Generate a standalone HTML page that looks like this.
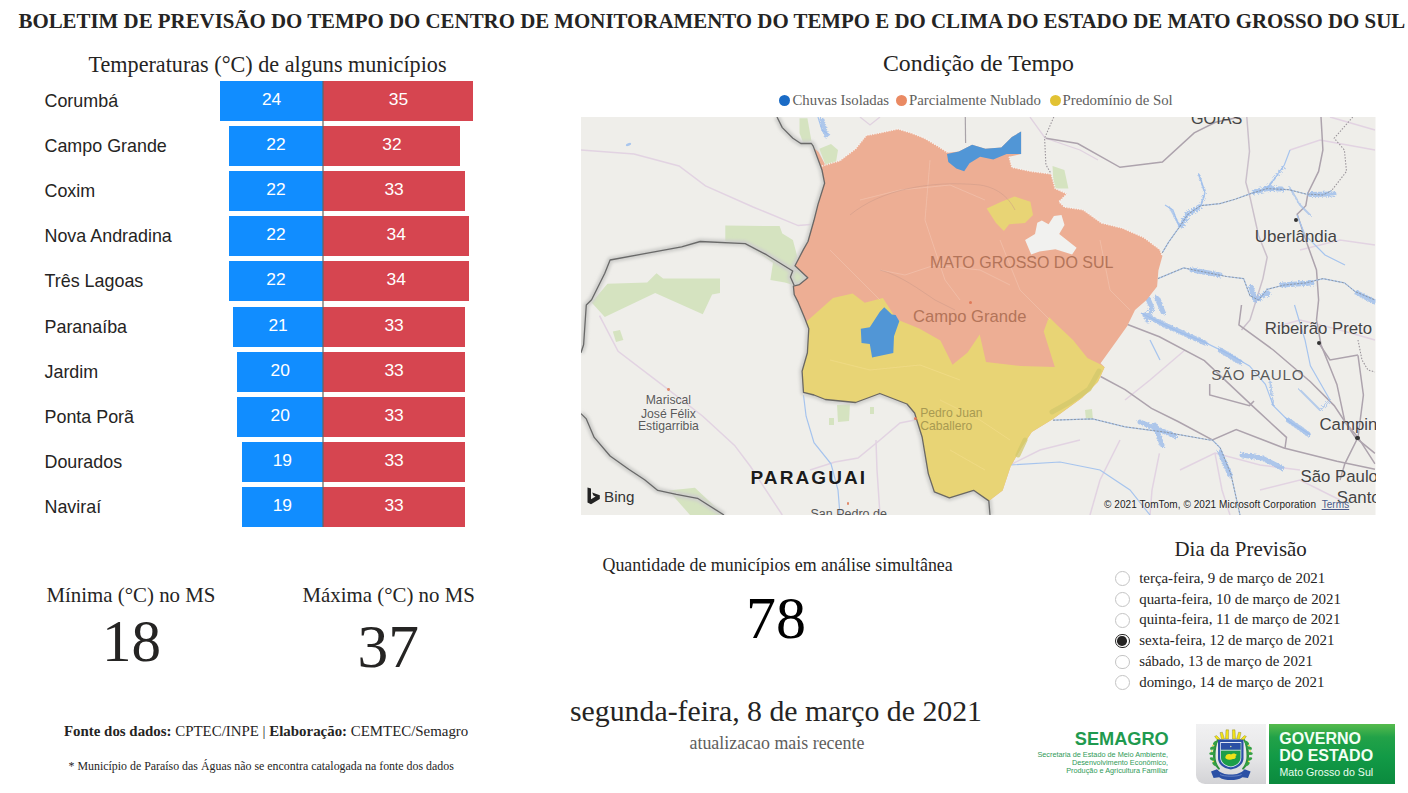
<!DOCTYPE html>
<html><head><meta charset="utf-8"><style>
html,body{margin:0;padding:0;background:#fff;width:1408px;height:793px;overflow:hidden;position:relative}
.t{position:absolute;white-space:nowrap;line-height:1.2}
.b{position:absolute}
</style></head><body>
<svg style="position:absolute;left:0;top:0" width="1408" height="793" viewBox="0 0 1408 793">
<defs><clipPath id="mc"><rect x="581" y="117" width="794.5" height="398"/></clipPath></defs>
<g clip-path="url(#mc)">
<rect x="581" y="117" width="795" height="398" fill="#efeeea"/>
<!-- parks -->
<g fill="#d5e3c0">
<path d="M725.3,225.6 L779.6,226.1 L782.3,233.5 L792.9,240.1 L798.2,260 L807.4,277.2 L798.2,286.5 L784.9,282.5 L770.4,279.9 L773,262.7 L745.2,243.6 L725.3,241.5 Z"/>
<path d="M591.6,302.4 L607.5,283.8 L647.2,282.5 L656.5,273.3 L663.1,278.5 L720,278.5 L720,293.1 L712.1,294.4 L702.8,314.3 L655.2,293.1 L604.8,317 Z"/>
<path d="M799.5,118.3 L807.4,118.3 L811.4,140.8 L803.5,143.5 L799.5,132.9 Z"/>
<path d="M819.3,148.8 L831,144 L838,150 L836,162 L826,166 Z"/>
<path d="M1052.5,166 L1064.4,170 L1068.4,188.5 L1053.8,188.5 Z"/>
<path d="M612.8,331.5 L620,330 L623.4,340 L616,342 Z"/>
<path d="M668.4,490.4 L694.9,487.7 L724,515 L690,515 Z"/>
<path d="M837,405 L850,404 L849,421 L838,422 Z"/><path d="M829,418 L834,418 L834,425 L829,425 Z"/><path d="M870,407 L874,407 L874,414 L870,414 Z"/>
<path d="M1085,410 L1092,409 L1093,420 L1086,420 Z"/>
</g>
<ellipse cx="628.5" cy="144.5" rx="2.8" ry="1.3" fill="#a9c6ee" transform="rotate(-20 628.5 144.5)"/>
<!-- roads light pink -->
<g fill="none" stroke="#e2d3e2" stroke-width="1.5">
<path d="M581,150.1 L634,154 L679,166 L705.5,185.9 L753.1,207 L798.2,225.6 L814,224.3"/>
<path d="M599.5,315.6 L618.1,351.3 L668.4,389.7 L702.8,416.2 L734.6,445.4 L750.5,466.5 L782.3,515"/>
<path d="M1215,453.3 L1222,490 L1230,515"/>
<path d="M1159.4,453.3 L1152,490 L1150,515"/>
<path d="M1185,350 L1150,380 L1125,400"/>
<path d="M1120,440 L1100,480 L1090,515"/>
<path d="M1375,130 L1330,117"/>
<path d="M1290,150 L1320,140 L1375,150"/>
<path d="M1265,330 L1300,320 L1340,330 L1375,340"/>
<path d="M915,420 L900,423 L880,440 L858,458 L835,462 L810,470"/><path d="M876,440 L877,470 L880,515"/>
<path d="M1180,470 L1215,453 L1260,465 L1300,470"/>
<path d="M1260,490 L1300,480 L1340,500"/>
<path d="M1000,470 L1040,450 L1080,440"/>
<path d="M1300,250 L1340,240 L1375,245"/>

</g>
<g fill="none" stroke="#e0d2e0" stroke-width="1.3">
<path d="M1030,117 L1045,138 L1080,150 L1098,160"/>
<path d="M860,117 L870,125 L880,117"/>
</g>
<g fill="none" stroke="#a9a3a9" stroke-width="1.2"><path d="M965.3,117 L965.6,143"/></g>
<!-- major roads gray -->
<g fill="none" stroke="#ada3ad" stroke-width="1.5">
<path d="M1045.9,138.2 L1077.7,143.5 L1120,167.3 L1162.4,162 L1194.2,132.9 L1215.4,122.3 L1240,117"/>
<path stroke="#cbc0cb" d="M1246.8,117 L1249.5,151.4 L1245.8,182.2 L1250,197.2 L1258.6,235.7 L1267.2,257.2 L1262.9,278.6 L1250,320 L1241.5,330"/>
<path d="M1321,117 L1322.9,150 L1318.6,171.4 L1308,192.9 L1305.8,205.7 L1297.2,214.3 L1305.8,240 L1316.5,270 L1318.6,300 L1316.5,320 L1321,344.7 L1336.9,384.4 L1344.8,421.5 L1358,437.4 L1375,463.9"/>
<path d="M1125,323.5 L1159.4,336.8 L1204.4,360.6 L1252.1,405.6 L1286.5,437.4 L1285,448"/>
<path d="M1241.5,305 L1238.9,324.9 L1273.3,350 L1310.4,381.8 L1334.2,405.6 L1355.4,437.4 L1375,453.3"/>
<path d="M1100.6,376.5 L1125,389.7 L1151.5,408.3 L1178,421.5 L1212.4,440 L1236.2,429.5 L1283.9,448 L1336.9,461.2 L1375,469.2"/>
<path d="M1209.7,384 L1209.7,395 L1249.5,405.6 L1254,401"/>
<path d="M1358,355.3 L1363.4,395 L1358,437.4 L1344.8,463.9 L1340,480"/>
<path d="M1318.7,343 L1330,360 L1358,355"/>
</g>
<defs><filter id="fz" x="-20%" y="-20%" width="140%" height="140%"><feTurbulence type="fractalNoise" baseFrequency="0.6" numOctaves="2" seed="3"/><feDisplacementMap in="SourceGraphic" scale="5"/></filter></defs>
<!-- rivers thin -->
<g fill="none" stroke="#a6c4ee" stroke-width="1.2">
<path d="M803.5,395 L806.1,416.2 L814,442.7 L831,463.9 L838,490 L840,515"/>
<path d="M1162.2,252.9 L1168.6,242.2 L1179.3,227.2 L1187.9,214.3 L1200.7,205.7 L1220,203.6 L1235,199.3 L1250,193.9 L1267.2,188.6 L1288.6,189.7 L1305.8,194 L1322.9,195 L1331.5,190.7"/>
<path d="M1157.9,278.6 L1183.6,267.9 L1205,272.2 L1226.5,276.5 L1243.6,278.6 L1250,295.8 L1258.6,300 L1267.2,289.3 L1284.3,285 L1305.8,282.9 L1322.9,278.6 L1344.4,282.9 L1355,291.5 L1375,300"/>
<path d="M1053,420.2 L1092.7,418.9 L1125,426.8 L1164.7,432.1 L1209.7,440 L1212.4,440"/>
<path d="M1140.9,313 L1178,331.5 L1204.4,342.1 L1231,355.3 L1249.5,365.9 L1265.4,384.4 L1273.3,405.6 L1289.2,421.5 L1310.4,434.8"/>
<path d="M1200.7,205.7 L1205,192.9 L1198.6,173.6"/>
<path d="M1267.2,188.6 L1284.3,165 L1290,150"/>
<path d="M1179.3,227.2 L1172.9,210 L1165,205"/>
<path d="M1212.4,440 L1220.3,448 L1231,474.5 L1240,515"/>
<path d="M818,117 L822,130 L830,135"/>
<path d="M1297,215 L1305,235 L1325,255 L1345,265"/>
<path d="M1294.5,305 L1305,340 L1310.4,365.9 L1330,400"/>
<path d="M1010,465 L1060,462 L1100,470 L1130,490 L1150,515"/>
<path d="M1150,340 L1160,360"/>
</g>
<!-- reservoirs fuzzy -->
<g fill="none" stroke="#9dbdeb" stroke-width="5" stroke-linecap="round" stroke-linejoin="round" filter="url(#fz)" opacity="0.8">
<path d="M1181,226 L1188,214 L1199,207"/>
<path d="M1254,192 L1267,188.6 L1282,189"/>
<path d="M1310,194.5 L1334,194"/>
<path d="M1192,270 L1220,275"/>
<path d="M1251,287 L1255,300 L1268,293"/>
<path d="M1282,285 L1312,283"/>
<path d="M1357,293 L1375,302"/>
<path d="M1146,294 L1152,308 L1147,320"/>
<path d="M1157,298 L1163,312"/>
<path d="M1145,315 L1165,325 L1185,334 L1205,343"/>
<path d="M1220,350 L1240,362"/>
<path d="M1288,420 L1308,434"/>
<path d="M1140,422 L1160,430 L1175,436"/>
<path d="M1155,425 L1162,445"/>
<path d="M1220,452 L1230,475"/>
<path d="M1242,455 L1262,458 L1282,468"/>
<path d="M822,120 L826,135"/>
</g>
<g fill="none" stroke="#9dbdeb" stroke-width="2" stroke-linecap="round" filter="url(#fz)" opacity="0.7">
<path d="M1199,175 L1205,193 L1201,205"/>
<path d="M1284,167 L1267,188"/>
<path d="M1170,208 L1180,226"/>
<path d="M1300,390 L1320,410 L1330,400"/>
<path d="M1270,380 L1273,405"/>
<path d="M1290,188 L1300,205 L1310,215"/>
</g>
<!-- river state border dashes -->
<g fill="none" stroke="#8d8d8d" stroke-width="1" stroke-dasharray="2,1.5" opacity="0.8">
<path d="M1162.2,252.9 L1168.6,242.2 L1179.3,227.2 L1187.9,214.3 L1200.7,205.7 L1220,203.6 L1235,199.3 L1250,193.9 L1267.2,188.6 L1288.6,189.7 L1305.8,194 L1322.9,195 L1331.5,190.7"/>
<path d="M1157.9,278.6 L1183.6,267.9 L1205,272.2 L1226.5,276.5 L1243.6,278.6 L1250,295.8 L1258.6,300 L1267.2,289.3 L1284.3,285 L1305.8,282.9 L1322.9,278.6 L1344.4,282.9 L1355,291.5 L1375,300"/>
<path d="M1053,420.2 L1092.7,418.9 L1125,426.8 L1164.7,432.1 L1209.7,440 L1212.4,440"/>
<path d="M1212.4,440 L1220.3,448 L1231,474.5 L1240,515"/>
</g>
<!-- state borders dotted -->
<g fill="none" stroke="#9a949a" stroke-width="1.1" stroke-dasharray="1.5,1.5">
<path d="M1053.8,117 L1044.6,138.2 L1045.9,164.7 L1051.2,173.9"/>
<path d="M1352.8,117 L1334.2,138.2 L1344.4,150 L1346.5,171.4 L1331.5,190.7"/>
<path d="M1358,340 L1362,360 L1368,370 L1375,372"/>
</g>
<!-- halo -->
<defs><filter id="hb" x="-5%" y="-5%" width="110%" height="110%"><feGaussianBlur stdDeviation="1.6"/></filter></defs>
<g fill="none" stroke-linejoin="round" filter="url(#hb)">
<path id="b1" d="M777,117 L782.3,127.6 L792.9,138.2 L800.8,143.5 L811.4,143.5 L813.2,146.1 L822,170 L824.6,183.2 L818,204.4 L814,220.3 L808,241.5 L803.5,249.4 L795,265.7 L807.8,277.8 L799.5,284.6 L793.4,286.1 L794.2,294.5 L798.2,302.4 L804.8,318.3 L808.8,328.8 L807.4,352.7 L802.1,371.2 L803.5,392.4 L814,395 L825.4,399.5 L855.6,402.5 L879.8,393.5 L907,404 L914.6,413 L922.2,437.3 L928.3,473.6 L934.3,491.8 L949.4,497.9 L973.6,490.3 L988.8,500.9 L990,515" stroke="#cfcfcc" stroke-width="6"/>
<path d="M794.2,285.4 L790.4,277 L792.7,271 L766.4,254.7 L745.2,243.6 L700.2,241.5 L681.6,246.8 L610.1,260 L604.8,273.2 L591.6,299.7 L586.3,305 L583.6,344.7 L581,352.7" stroke="#cfcfcc" stroke-width="6"/>
<path d="M581,413.6 L586.3,418.9 L594.2,437.4 L610.1,456 L628.7,469.2 L644.6,479.8 L657.8,490.4 L676.3,494.4 L697.5,498.3 L724,515" stroke="#cfcfcc" stroke-width="6"/>
</g>
<!-- MS state -->
<path fill="#edae94" d="M814.4,148.5 L818.5,152 L825.2,164.7 L839.7,160.7 L855.6,148.8 L866.2,135.5 L879.4,132.9 L898,128.9 L911.2,132.9 L924.5,138.2 L937.7,146.1 L948.3,152.8 L958.9,151.4 L972.1,144.8 L985.4,148.8 L1001.3,147.5 L1011.9,136.9 L1021.1,131.6 L1021.1,154.1 L1009.2,156.7 L1011.9,167.3 L1030.4,171.3 L1051.2,173.9 L1055.2,188.5 L1067.1,193.8 L1059.1,201.7 L1064.4,207 L1083,209.7 L1101.5,222.9 L1122.7,228.2 L1143.9,237.5 L1159.8,249.4 L1162.4,256 L1158.4,270.6 L1157.1,286.5 L1146.5,300 L1135,310 L1127.1,326.2 L1113.9,344.7 L1100.6,363.3 L1104.6,367.2 L1098,381.8 L1082.1,397.7 L1053,418.9 L1031.8,432.1 L1021.2,448 L1010.6,466.5 L1002.6,490.4 L988.8,500.9 L973.6,490.3 L949.4,497.9 L934.3,491.8 L928.3,473.6 L922.2,437.3 L914.6,413 L907,404 L879.8,393.5 L855.6,402.5 L825.4,399.5 L814,395 L803.5,392.4 L802.1,371.2 L807.4,352.7 L808.8,328.8 L804.8,318.3 L798.2,302.4 L794.2,294.5 L793.4,286.1 L799.5,284.6 L807.8,277.8 L795,265.7 L803.5,249.4 L808,241.5 L814,220.3 L818,204.4 L824.6,183.2 L822,170 Z"/>
<path fill="#e8d475" d="M806,322 L833,298 L852.6,293.6 L864.7,302.7 L882.9,298 L896.5,319.3 L919.2,328.4 L940.4,340.5 L952.5,364.7 L967.6,352.6 L979.7,334.5 L986,362 L1020.5,366 L1054.8,367 L1043.7,331.5 L1049,316.9 L1057,325 L1073,340 L1087.4,358 L1100.6,364.6 L1104.6,367.2 L1098,381.8 L1082.1,397.7 L1053,418.9 L1031.8,432.1 L1021.2,448 L1010.6,466.5 L1002.6,490.4 L988.8,500.9 L973.6,490.3 L949.4,497.9 L934.3,491.8 L928.3,473.6 L922.2,437.3 L914.6,413 L907,404 L879.8,393.5 L855.6,402.5 L825.4,399.5 L814,395 L803.5,392.4 L802.1,371.2 L807.4,352.7 L808.8,328.8 Z"/>
<path fill="#5196d6" d="M947,154.1 L958.9,151.4 L972.1,144.8 L985.4,148.8 L1001.3,147.5 L1011.9,136.9 L1021.1,131.6 L1021.1,154.1 L1006.6,154.1 L993.3,159.4 L980.1,156.7 L969.5,163.3 L964.2,171.3 L956.3,168.6 L948.3,162 Z"/>
<path fill="#5196d6" d="M884.2,307.2 L891.8,314.4 L895.6,315.1 L899.3,321.2 L894,336.3 L893.3,353 L872.1,357.5 L869.8,343.9 L861.5,343.1 L860.8,328.7 L869.8,327.2 L879.7,312.1 Z"/>
<path fill="#e8d475" d="M986.7,208.4 L1001.3,201.7 L1014.5,196.4 L1030.4,201.7 L1033,215 L1025,222.9 L1009.2,224.3 L1003.9,230.9 L996,222.9 Z"/>
<path fill="#f1f1ef" d="M1025.1,240.1 L1035,234 L1037.3,222.7 L1041.8,220.4 L1048.6,224.2 L1053.9,215.9 L1061.5,215.1 L1064.5,225 L1059.2,234 L1076.6,247.7 L1072.1,254.5 L1055.4,249.2 L1039.5,251.5 L1031.2,254.5 Z"/>
<g fill="none" stroke="#d3c96c" stroke-width="5" stroke-linecap="round" opacity="0.75">
<path d="M1099,371 L1089,389 L1070,402 L1052,412"/>
<path d="M1025,440 L1018,455"/>
</g>
<g fill="none" stroke="#f3c4b0" stroke-width="0.8" opacity="0.8">
<path d="M860,200 L900,190 L950,185 L985,200"/>
<path d="M930,160 L925,220 L945,280 L960,300"/>
<path d="M1000,240 L1020,290 L1050,320"/>
<path d="M880,270 L905,275 L935,265 L980,270 L1010,285"/>
<path d="M830,250 L860,280 L880,300"/>
<path d="M1100,240 L1110,290 L1130,310"/>
</g>
<g fill="none" stroke="#c99a88" stroke-width="0.9" opacity="0.55">
<path d="M850,215 C880,190 930,180 980,185 C1000,188 1010,200 1015,210"/>
<path d="M880,270 C900,275 920,290 935,300 L955,310"/>
</g>
<g fill="none" stroke="#f2dd8c" stroke-width="0.8" opacity="0.8">
<path d="M830,360 L870,370 L920,365 L960,380"/>
<path d="M940,400 L980,420 L1010,440"/>
<path d="M950,450 L985,470"/>
</g>
<g fill="none" stroke="#f6f4f2" stroke-width="1.6" stroke-dasharray="1.2,1.2" opacity="0.9">
<path d="M822,166 L839.7,160.7 L855.6,148.8 L866.2,135.5 L879.4,132.9 L898,128.9 L911.2,132.9 L924.5,138.2 L937.7,146.1 L948.3,152.8"/>
<path d="M1009.2,156.7 L1011.9,167.3 L1030.4,171.3 L1051.2,173.9 L1055.2,188.5 L1067.1,193.8 L1059.1,201.7 L1064.4,207 L1083,209.7 L1101.5,222.9 L1122.7,228.2 L1143.9,237.5 L1159.8,249.4 L1162.4,256"/>
</g>
<!-- dark borders -->
<g fill="none" stroke-linejoin="round" opacity="0.9">
<path d="M777,117 L782.3,127.6 L792.9,138.2 L800.8,143.5 L811.4,143.5 L813.2,146.1 L822,170 L824.6,183.2 L818,204.4 L814,220.3 L808,241.5 L803.5,249.4 L795,265.7 L807.8,277.8 L799.5,284.6 L793.4,286.1 L794.2,294.5 L798.2,302.4 L804.8,318.3 L808.8,328.8 L807.4,352.7 L802.1,371.2 L803.5,392.4 L814,395 L825.4,399.5 L855.6,402.5 L879.8,393.5 L907,404 L914.6,413 L922.2,437.3 L928.3,473.6 L934.3,491.8 L949.4,497.9 L973.6,490.3 L988.8,500.9 L990,515" stroke="#5e5e5e" stroke-width="1.3"/>
<path d="M794.2,285.4 L790.4,277 L792.7,271 L766.4,254.7 L745.2,243.6 L700.2,241.5 L681.6,246.8 L610.1,260 L604.8,273.2 L591.6,299.7 L586.3,305 L583.6,344.7 L581,352.7" stroke="#5e5e5e" stroke-width="1.3"/>
<path d="M581,413.6 L586.3,418.9 L594.2,437.4 L610.1,456 L628.7,469.2 L644.6,479.8 L657.8,490.4 L676.3,494.4 L697.5,498.3 L724,515" stroke="#5e5e5e" stroke-width="1.3"/>
</g>
</g>
</svg>

<div class="b" style="left:581px;top:117px;width:794.5px;height:398px;overflow:hidden"><div class="t" style="left:349.00px;top:135.65px;font-family:'Liberation Sans', sans-serif;font-size:16px;font-weight:normal;color:#b37459;">MATO GROSSO DO SUL</div>
<div class="t" style="left:332.00px;top:190.28px;font-family:'Liberation Sans', sans-serif;font-size:16.6px;font-weight:normal;color:#b37459;">Campo Grande</div>
<div class="t" style="left:339.20px;top:289.15px;font-family:'Liberation Sans', sans-serif;font-size:12.2px;font-weight:normal;color:#a89a52;">Pedro Juan</div>
<div class="t" style="left:339.20px;top:302.05px;font-family:'Liberation Sans', sans-serif;font-size:12.2px;font-weight:normal;color:#a89a52;">Caballero</div>
<div class="t" style="left:169.50px;top:350.01px;font-family:'Liberation Sans', sans-serif;font-size:19px;font-weight:bold;color:#1b1b1b;letter-spacing:2.1px;text-shadow:0 0 2px rgba(255,255,255,0.7);">PARAGUAI</div>
<div class="t" style="left:87.40px;top:276.25px;font-family:'Liberation Sans', sans-serif;font-size:12.2px;font-weight:normal;color:#5a5a5a;transform:translateX(-50%);text-shadow:0 0 2px rgba(255,255,255,0.7);">Mariscal</div>
<div class="t" style="left:87.40px;top:289.75px;font-family:'Liberation Sans', sans-serif;font-size:12.2px;font-weight:normal;color:#5a5a5a;transform:translateX(-50%);text-shadow:0 0 2px rgba(255,255,255,0.7);">José Félix</div>
<div class="t" style="left:87.40px;top:302.25px;font-family:'Liberation Sans', sans-serif;font-size:12.2px;font-weight:normal;color:#5a5a5a;transform:translateX(-50%);text-shadow:0 0 2px rgba(255,255,255,0.7);">Estigarribia</div>
<div class="t" style="left:23.00px;top:370.91px;font-family:'Liberation Sans', sans-serif;font-size:15.2px;font-weight:normal;color:#333333;">Bing</div>
<div class="t" style="left:229.50px;top:389.67px;font-family:'Liberation Sans', sans-serif;font-size:12.5px;font-weight:normal;color:#555555;">San Pedro de</div>
<div class="t" style="left:610.00px;top:-8.34px;font-family:'Liberation Sans', sans-serif;font-size:16.2px;font-weight:normal;color:#454545;">GOIAS</div>
<div class="t" style="left:673.80px;top:109.51px;font-family:'Liberation Sans', sans-serif;font-size:17px;font-weight:normal;color:#444444;text-shadow:0 0 2px rgba(255,255,255,0.7);">Uberlândia</div>
<div class="t" style="left:683.80px;top:202.10px;font-family:'Liberation Sans', sans-serif;font-size:16.8px;font-weight:normal;color:#444444;text-shadow:0 0 2px rgba(255,255,255,0.7);">Ribeirão Preto</div>
<div class="t" style="left:630.20px;top:248.81px;font-family:'Liberation Sans', sans-serif;font-size:15.2px;font-weight:normal;color:#5a5a5a;letter-spacing:0.7px;text-shadow:0 0 2px rgba(255,255,255,0.7);">SÃO PAULO</div>
<div class="t" style="left:738.50px;top:297.70px;font-family:'Liberation Sans', sans-serif;font-size:16.8px;font-weight:normal;color:#444444;text-shadow:0 0 2px rgba(255,255,255,0.7);">Campinas</div>
<div class="t" style="left:719.50px;top:349.70px;font-family:'Liberation Sans', sans-serif;font-size:16.8px;font-weight:normal;color:#444444;text-shadow:0 0 2px rgba(255,255,255,0.7);">São Paulo</div>
<div class="t" style="left:755.80px;top:370.50px;font-family:'Liberation Sans', sans-serif;font-size:16.8px;font-weight:normal;color:#444444;text-shadow:0 0 2px rgba(255,255,255,0.7);">Santos</div>
<div class="t" style="left:523.00px;top:381.93px;font-family:'Liberation Sans', sans-serif;font-size:10px;font-weight:normal;color:#222222;letter-spacing:0.07px;text-shadow:0 0 2px rgba(255,255,255,0.7);">© 2021 TomTom, © 2021 Microsoft Corporation&nbsp; <span style='text-decoration:underline;color:#4a5a8a'>Terms</span></div>
<div class="b" style="left:388.20px;top:183.80px;width:3.2px;height:3.2px;border-radius:50%;background:#e07a5a"></div><div class="b" style="left:332.80px;top:300.10px;width:3.0px;height:3.0px;border-radius:50%;background:#e07a5a"></div><div class="b" style="left:86.00px;top:271.30px;width:2.8px;height:2.8px;border-radius:50%;background:#e08a6a"></div><div class="b" style="left:265.60px;top:385.30px;width:2.8px;height:2.8px;border-radius:50%;background:#e08a6a"></div><div class="b" style="left:712.60px;top:100.60px;width:4.4px;height:4.4px;border-radius:50%;background:#333"></div><div class="b" style="left:735.50px;top:223.80px;width:4.4px;height:4.4px;border-radius:50%;background:#333"></div><div class="b" style="left:774.40px;top:318.80px;width:4.4px;height:4.4px;border-radius:50%;background:#333"></div><svg class="b" style="left:5.5px;top:370px" width="14" height="18" viewBox="0 0 14 18"><path d="M0.5,0.5 L4,1.6 L4,12.2 L8.6,9.6 L6.4,8.6 L5.2,5.6 L12.8,8.3 L12.8,12.1 L4,17.3 L0.5,15.4 Z" fill="#222"/></svg></div>
<div class="b" style="left:220.28px;top:80.60px;width:102.72px;height:40px;background:#118DFF"></div><div class="b" style="left:323.00px;top:80.60px;width:150.30px;height:40px;background:#D64550"></div><div class="b" style="left:228.84px;top:125.80px;width:94.16px;height:40px;background:#118DFF"></div><div class="b" style="left:323.00px;top:125.80px;width:137.46px;height:40px;background:#D64550"></div><div class="b" style="left:228.84px;top:171.00px;width:94.16px;height:40px;background:#118DFF"></div><div class="b" style="left:323.00px;top:171.00px;width:141.74px;height:40px;background:#D64550"></div><div class="b" style="left:228.84px;top:216.20px;width:94.16px;height:40px;background:#118DFF"></div><div class="b" style="left:323.00px;top:216.20px;width:146.02px;height:40px;background:#D64550"></div><div class="b" style="left:228.84px;top:261.40px;width:94.16px;height:40px;background:#118DFF"></div><div class="b" style="left:323.00px;top:261.40px;width:146.02px;height:40px;background:#D64550"></div><div class="b" style="left:233.12px;top:306.60px;width:89.88px;height:40px;background:#118DFF"></div><div class="b" style="left:323.00px;top:306.60px;width:141.74px;height:40px;background:#D64550"></div><div class="b" style="left:237.40px;top:351.80px;width:85.60px;height:40px;background:#118DFF"></div><div class="b" style="left:323.00px;top:351.80px;width:141.74px;height:40px;background:#D64550"></div><div class="b" style="left:237.40px;top:397.00px;width:85.60px;height:40px;background:#118DFF"></div><div class="b" style="left:323.00px;top:397.00px;width:141.74px;height:40px;background:#D64550"></div><div class="b" style="left:241.68px;top:442.20px;width:81.32px;height:40px;background:#118DFF"></div><div class="b" style="left:323.00px;top:442.20px;width:141.74px;height:40px;background:#D64550"></div><div class="b" style="left:241.68px;top:487.40px;width:81.32px;height:40px;background:#118DFF"></div><div class="b" style="left:323.00px;top:487.40px;width:141.74px;height:40px;background:#D64550"></div><div class="b" style="left:322.4px;top:80.6px;width:1.2px;height:446px;background:rgba(100,100,100,0.6)"></div><div class="t" style="left:18.50px;top:9.01px;font-family:'Liberation Serif', serif;font-size:20.9px;font-weight:bold;color:#252423;">BOLETIM DE PREVISÃO DO TEMPO DO CENTRO DE MONITORAMENTO DO TEMPO E DO CLIMA DO ESTADO DE MATO GROSSO DO SUL</div>
<div class="t" style="left:88.50px;top:51.82px;font-family:'Liberation Serif', serif;font-size:22.17px;font-weight:normal;color:#252423;">Temperaturas (°C) de alguns municípios</div>
<div class="t" style="left:44.50px;top:90.55px;font-family:'Liberation Sans', sans-serif;font-size:17.9px;font-weight:normal;color:#252423;">Corumbá</div>
<div class="t" style="left:271.64px;top:88.53px;font-family:'Liberation Sans', sans-serif;font-size:17.4px;font-weight:normal;color:#ffffff;transform:translateX(-50%);">24</div>
<div class="t" style="left:398.40px;top:88.53px;font-family:'Liberation Sans', sans-serif;font-size:17.4px;font-weight:normal;color:#ffffff;transform:translateX(-50%);">35</div>
<div class="t" style="left:44.50px;top:135.75px;font-family:'Liberation Sans', sans-serif;font-size:17.9px;font-weight:normal;color:#252423;">Campo Grande</div>
<div class="t" style="left:275.92px;top:133.73px;font-family:'Liberation Sans', sans-serif;font-size:17.4px;font-weight:normal;color:#ffffff;transform:translateX(-50%);">22</div>
<div class="t" style="left:391.98px;top:133.73px;font-family:'Liberation Sans', sans-serif;font-size:17.4px;font-weight:normal;color:#ffffff;transform:translateX(-50%);">32</div>
<div class="t" style="left:44.50px;top:180.95px;font-family:'Liberation Sans', sans-serif;font-size:17.9px;font-weight:normal;color:#252423;">Coxim</div>
<div class="t" style="left:275.92px;top:178.93px;font-family:'Liberation Sans', sans-serif;font-size:17.4px;font-weight:normal;color:#ffffff;transform:translateX(-50%);">22</div>
<div class="t" style="left:394.12px;top:178.93px;font-family:'Liberation Sans', sans-serif;font-size:17.4px;font-weight:normal;color:#ffffff;transform:translateX(-50%);">33</div>
<div class="t" style="left:44.50px;top:226.15px;font-family:'Liberation Sans', sans-serif;font-size:17.9px;font-weight:normal;color:#252423;">Nova Andradina</div>
<div class="t" style="left:275.92px;top:224.13px;font-family:'Liberation Sans', sans-serif;font-size:17.4px;font-weight:normal;color:#ffffff;transform:translateX(-50%);">22</div>
<div class="t" style="left:396.26px;top:224.13px;font-family:'Liberation Sans', sans-serif;font-size:17.4px;font-weight:normal;color:#ffffff;transform:translateX(-50%);">34</div>
<div class="t" style="left:44.50px;top:271.35px;font-family:'Liberation Sans', sans-serif;font-size:17.9px;font-weight:normal;color:#252423;">Três Lagoas</div>
<div class="t" style="left:275.92px;top:269.33px;font-family:'Liberation Sans', sans-serif;font-size:17.4px;font-weight:normal;color:#ffffff;transform:translateX(-50%);">22</div>
<div class="t" style="left:396.26px;top:269.33px;font-family:'Liberation Sans', sans-serif;font-size:17.4px;font-weight:normal;color:#ffffff;transform:translateX(-50%);">34</div>
<div class="t" style="left:44.50px;top:316.55px;font-family:'Liberation Sans', sans-serif;font-size:17.9px;font-weight:normal;color:#252423;">Paranaíba</div>
<div class="t" style="left:278.06px;top:314.53px;font-family:'Liberation Sans', sans-serif;font-size:17.4px;font-weight:normal;color:#ffffff;transform:translateX(-50%);">21</div>
<div class="t" style="left:394.12px;top:314.53px;font-family:'Liberation Sans', sans-serif;font-size:17.4px;font-weight:normal;color:#ffffff;transform:translateX(-50%);">33</div>
<div class="t" style="left:44.50px;top:361.75px;font-family:'Liberation Sans', sans-serif;font-size:17.9px;font-weight:normal;color:#252423;">Jardim</div>
<div class="t" style="left:280.20px;top:359.73px;font-family:'Liberation Sans', sans-serif;font-size:17.4px;font-weight:normal;color:#ffffff;transform:translateX(-50%);">20</div>
<div class="t" style="left:394.12px;top:359.73px;font-family:'Liberation Sans', sans-serif;font-size:17.4px;font-weight:normal;color:#ffffff;transform:translateX(-50%);">33</div>
<div class="t" style="left:44.50px;top:406.95px;font-family:'Liberation Sans', sans-serif;font-size:17.9px;font-weight:normal;color:#252423;">Ponta Porã</div>
<div class="t" style="left:280.20px;top:404.93px;font-family:'Liberation Sans', sans-serif;font-size:17.4px;font-weight:normal;color:#ffffff;transform:translateX(-50%);">20</div>
<div class="t" style="left:394.12px;top:404.93px;font-family:'Liberation Sans', sans-serif;font-size:17.4px;font-weight:normal;color:#ffffff;transform:translateX(-50%);">33</div>
<div class="t" style="left:44.50px;top:452.15px;font-family:'Liberation Sans', sans-serif;font-size:17.9px;font-weight:normal;color:#252423;">Dourados</div>
<div class="t" style="left:282.34px;top:450.13px;font-family:'Liberation Sans', sans-serif;font-size:17.4px;font-weight:normal;color:#ffffff;transform:translateX(-50%);">19</div>
<div class="t" style="left:394.12px;top:450.13px;font-family:'Liberation Sans', sans-serif;font-size:17.4px;font-weight:normal;color:#ffffff;transform:translateX(-50%);">33</div>
<div class="t" style="left:44.50px;top:497.35px;font-family:'Liberation Sans', sans-serif;font-size:17.9px;font-weight:normal;color:#252423;">Naviraí</div>
<div class="t" style="left:282.34px;top:495.33px;font-family:'Liberation Sans', sans-serif;font-size:17.4px;font-weight:normal;color:#ffffff;transform:translateX(-50%);">19</div>
<div class="t" style="left:394.12px;top:495.33px;font-family:'Liberation Sans', sans-serif;font-size:17.4px;font-weight:normal;color:#ffffff;transform:translateX(-50%);">33</div>
<div class="t" style="left:883.00px;top:49.29px;font-family:'Liberation Serif', serif;font-size:23.8px;font-weight:normal;color:#252423;">Condição de Tempo</div>
<div class="b" style="left:778.70px;top:94.90px;width:11px;height:11px;border-radius:50%;background:#1A6BC6"></div><div class="t" style="left:792.50px;top:91.73px;font-family:'Liberation Serif', serif;font-size:14.8px;font-weight:normal;color:#605E5C;">Chuvas Isoladas</div>
<div class="b" style="left:896.00px;top:94.90px;width:11px;height:11px;border-radius:50%;background:#EA8A63"></div><div class="t" style="left:909.00px;top:91.73px;font-family:'Liberation Serif', serif;font-size:14.8px;font-weight:normal;color:#605E5C;">Parcialmente Nublado</div>
<div class="b" style="left:1049.50px;top:94.90px;width:11px;height:11px;border-radius:50%;background:#E2C233"></div><div class="t" style="left:1062.50px;top:91.73px;font-family:'Liberation Serif', serif;font-size:14.8px;font-weight:normal;color:#605E5C;">Predomínio de Sol</div>
<div class="t" style="left:46.50px;top:582.95px;font-family:'Liberation Serif', serif;font-size:20.86px;font-weight:normal;color:#252423;">Mínima (°C) no MS</div>
<div class="t" style="left:102.00px;top:605.69px;font-family:'Liberation Serif', serif;font-size:59px;font-weight:normal;color:#252423;">18</div>
<div class="t" style="left:302.50px;top:582.95px;font-family:'Liberation Serif', serif;font-size:20.86px;font-weight:normal;color:#252423;">Máxima (°C) no MS</div>
<div class="t" style="left:357.50px;top:609.95px;font-family:'Liberation Serif', serif;font-size:61.5px;font-weight:normal;color:#252423;">37</div>
<div class="t" style="left:64.00px;top:723.33px;font-family:'Liberation Serif', serif;font-size:14.9px;font-weight:normal;color:#252423;"><b>Fonte dos dados:</b> CPTEC/INPE | <b>Elaboração:</b> CEMTEC/Semagro</div>
<div class="t" style="left:68.50px;top:758.54px;font-family:'Liberation Serif', serif;font-size:11.9px;font-weight:normal;color:#252423;">* Município de Paraíso das Águas não se encontra catalogada na fonte dos dados</div>
<div class="t" style="left:602.50px;top:555.12px;font-family:'Liberation Serif', serif;font-size:17.9px;font-weight:normal;color:#252423;">Quantidade de municípios em análise simultânea</div>
<div class="t" style="left:746.00px;top:581.76px;font-family:'Liberation Serif', serif;font-size:60px;font-weight:normal;color:#000;">78</div>
<div class="t" style="left:570.00px;top:693.07px;font-family:'Liberation Serif', serif;font-size:29.8px;font-weight:normal;color:#252423;">segunda-feira, 8 de março de 2021</div>
<div class="t" style="left:689.50px;top:732.72px;font-family:'Liberation Serif', serif;font-size:17.9px;font-weight:normal;color:#605E5C;">atualizacao mais recente</div>
<div class="t" style="left:1174.50px;top:536.61px;font-family:'Liberation Serif', serif;font-size:20.9px;font-weight:normal;color:#252423;">Dia da Previsão</div>
<div class="b" style="left:1114.80px;top:571.10px;width:14.8px;height:14.8px;border-radius:50%;box-sizing:border-box;border:1.3px solid #c4c4c4;background:#fff"></div><div class="t" style="left:1139.20px;top:569.73px;font-family:'Liberation Serif', serif;font-size:14.9px;font-weight:normal;color:#252423;">terça-feira, 9 de março de 2021</div>
<div class="b" style="left:1114.80px;top:591.95px;width:14.8px;height:14.8px;border-radius:50%;box-sizing:border-box;border:1.3px solid #c4c4c4;background:#fff"></div><div class="t" style="left:1139.20px;top:590.58px;font-family:'Liberation Serif', serif;font-size:14.9px;font-weight:normal;color:#252423;">quarta-feira, 10 de março de 2021</div>
<div class="b" style="left:1114.80px;top:612.80px;width:14.8px;height:14.8px;border-radius:50%;box-sizing:border-box;border:1.3px solid #c4c4c4;background:#fff"></div><div class="t" style="left:1139.20px;top:611.43px;font-family:'Liberation Serif', serif;font-size:14.9px;font-weight:normal;color:#252423;">quinta-feira, 11 de março de 2021</div>
<div class="b" style="left:1114.80px;top:633.65px;width:14.8px;height:14.8px;border-radius:50%;box-sizing:border-box;border:1.5px solid #252423;background:#fff"></div><div class="b" style="left:1117.40px;top:636.25px;width:9.6px;height:9.6px;border-radius:50%;background:#252423"></div><div class="t" style="left:1139.20px;top:632.28px;font-family:'Liberation Serif', serif;font-size:14.9px;font-weight:normal;color:#252423;">sexta-feira, 12 de março de 2021</div>
<div class="b" style="left:1114.80px;top:654.50px;width:14.8px;height:14.8px;border-radius:50%;box-sizing:border-box;border:1.3px solid #c4c4c4;background:#fff"></div><div class="t" style="left:1139.20px;top:653.13px;font-family:'Liberation Serif', serif;font-size:14.9px;font-weight:normal;color:#252423;">sábado, 13 de março de 2021</div>
<div class="b" style="left:1114.80px;top:675.35px;width:14.8px;height:14.8px;border-radius:50%;box-sizing:border-box;border:1.3px solid #c4c4c4;background:#fff"></div><div class="t" style="left:1139.20px;top:673.98px;font-family:'Liberation Serif', serif;font-size:14.9px;font-weight:normal;color:#252423;">domingo, 14 de março de 2021</div>

<div class="b" style="left:1196px;top:723.5px;width:70px;height:60.3px;border-bottom-left-radius:9px;background:linear-gradient(180deg,#f1f1f2 0%,#e6e6e8 55%,#d3d3d6 100%)"></div>
<svg class="b" style="left:1196px;top:723.5px" width="70" height="61" viewBox="0 0 70 61">
  <!-- sun rays -->
  <g fill="#f4e417" stroke="#6b6b2a" stroke-width="0.35">
    <path d="M22,17 L18.6,12.4 L20.6,11.6 L25,16 Z"/>
    <path d="M25.5,15.5 L24,8.6 L26.4,8.2 L28.5,15 Z"/>
    <path d="M29.5,15 L30,5.8 L32.6,5.8 L32.5,15 Z"/>
    <path d="M36.5,15 L36.4,5.8 L39,5.8 L39.5,15 Z"/>
    <path d="M40.5,15 L42.6,8.2 L45,8.6 L43.5,15.5 Z"/>
    <path d="M44,16 L48.4,11.6 L50.4,12.4 L47,17 Z"/>
  </g>
  <!-- laurel branches -->
  <g fill="#2d8f3c">
    <path d="M21.5,15 C18.5,19 16.5,26 17,33 C17.5,39 19.5,43 23,46 L24,44.5 C21,41 19.5,37 19.5,32 C19.5,26 20.5,20 22.5,16 Z"/>
    <path d="M48.5,15 C51.5,19 53.5,26 53,33 C52.5,39 50.5,43 47,46 L46,44.5 C49,41 50.5,37 50.5,32 C50.5,26 49.5,20 47.5,16 Z"/>
  </g>
  <g fill="#34a043">
    <ellipse cx="19.2" cy="19" rx="2.6" ry="1.5" transform="rotate(-40 19.2 19)"/>
    <ellipse cx="16.7" cy="24" rx="2.8" ry="1.5" transform="rotate(-20 16.7 24)"/>
    <ellipse cx="16.0" cy="29.5" rx="2.8" ry="1.5" transform="rotate(0 16.0 29.5)"/>
    <ellipse cx="16.4" cy="35" rx="2.8" ry="1.5" transform="rotate(20 16.4 35)"/>
    <ellipse cx="18.7" cy="40" rx="2.8" ry="1.5" transform="rotate(40 18.7 40)"/>
    <ellipse cx="50.8" cy="19" rx="2.6" ry="1.5" transform="rotate(40 50.8 19)"/>
    <ellipse cx="53.3" cy="24" rx="2.8" ry="1.5" transform="rotate(20 53.3 24)"/>
    <ellipse cx="54.0" cy="29.5" rx="2.8" ry="1.5" transform="rotate(0 54.0 29.5)"/>
    <ellipse cx="53.599999999999994" cy="35" rx="2.8" ry="1.5" transform="rotate(-20 53.599999999999994 35)"/>
    <ellipse cx="51.3" cy="40" rx="2.8" ry="1.5" transform="rotate(-40 51.3 40)"/>
  </g>
  <g fill="#e6d92a"><circle cx="17" cy="21.5" r="0.8"/><circle cx="53" cy="21.5" r="0.8"/><circle cx="15.8" cy="27" r="0.8"/><circle cx="54.2" cy="27" r="0.8"/><circle cx="17.5" cy="37.5" r="0.7"/><circle cx="52.5" cy="37.5" r="0.7"/></g>
  <!-- shield -->
  <path d="M22,15.5 L47.5,15.5 L47.5,34 C47.5,40.5 41.5,44.5 34.8,45.5 C28,44.5 22,40.5 22,34 Z" fill="#2b50a5"/>
  <path d="M24.2,18 L45.3,18 L45.3,33.8 C45.3,39.3 40.3,42.6 34.8,43.3 C29.2,42.6 24.2,39.3 24.2,33.8 Z" fill="#dfe6f4"/>
  <path d="M25,19 L44.5,19 L44.5,33.8 C44.5,38.8 39.8,41.8 34.8,42.4 C29.8,41.8 25,38.8 25,33.8 Z" fill="#1c9e48"/>
  <rect x="25" y="19" width="19.5" height="6.8" fill="#2b50a5"/>
  <rect x="25" y="25.8" width="19.5" height="0.8" fill="#dfe6f4"/>
  <circle cx="34.8" cy="22.5" r="0.7" fill="#e9e9a0"/>
  <path d="M29.5,32.5 C30.5,30 33,29.5 35,30.5 C37,29 39.5,29.5 40.8,31 L39.5,32 C40.5,33.5 39,35.5 37,35 C35,36 32,36 30.5,35 C29.5,34.5 29,33.5 29.5,32.5 Z" fill="#eee21a"/>
  <!-- ribbon -->
  <path d="M15,47.5 L21,45.2 C24,49 29,50.5 34.8,50.5 C40.6,50.5 45.6,49 48.6,45.2 L54.6,47.5 L52,54 L46.5,53.2 C43,55.5 39,56 34.8,56 C30.6,56 26.6,55.5 23.1,53.2 L17.6,54 Z" fill="#2b50a5"/>
  <path d="M24,50.5 C28,52.8 41.6,52.8 45.6,50.5" fill="none" stroke="#9fb2dd" stroke-width="0.5"/>
</svg>
<div class="b" style="left:1268.9px;top:723.6px;width:126px;height:60.2px;background:linear-gradient(180deg,#56bb4d 0%,#22a248 22%,#129a46 55%,#0b8a3e 100%)"></div>
<div class="t" style="left:1279.2px;top:730.7px;font-family:'Liberation Sans',sans-serif;font-weight:bold;font-size:16px;line-height:16px;color:#f2fff4">GOVERNO</div>
<div class="t" style="left:1279.2px;top:748px;font-family:'Liberation Sans',sans-serif;font-weight:bold;font-size:16px;line-height:16px;color:#f2fff4">DO ESTADO</div>
<div class="t" style="left:1279.5px;top:766.8px;font-family:'Liberation Sans',sans-serif;font-size:10.6px;line-height:11px;color:#eafff0">Mato Grosso do Sul</div>
<div class="t" style="left:1074.8px;top:729.5px;font-family:'Liberation Sans',sans-serif;font-weight:bold;font-size:18.2px;line-height:18px;color:#1f9a4f">SEMAGRO</div>
<div class="t" style="right:240px;top:750.5px;font-family:'Liberation Sans',sans-serif;font-size:7.3px;line-height:8.1px;color:#2f9a58;text-align:right">Secretaria de Estado de Meio Ambiente,<br>Desenvolvimento Econômico,<br>Produção e Agricultura Familiar</div>

</body></html>
